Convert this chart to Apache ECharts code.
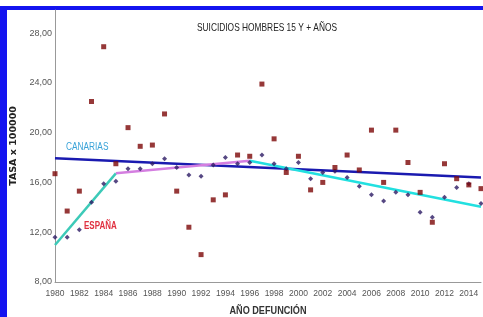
<!DOCTYPE html>
<html>
<head>
<meta charset="utf-8">
<script src="https://cdn.jsdelivr.net/npm/echarts@6/dist/echarts.min.js"></script>
<style>
html, body { margin: 0; padding: 0; background: #fff; }
#chart { width: 483px; height: 317px; }
</style>
</head>
<body>
<div id="chart"></div>
<script>
var years = [1980, 1981, 1982, 1983, 1984, 1985, 1986, 1987, 1988, 1989,
             1990, 1991, 1992, 1993, 1994, 1995, 1996, 1997, 1998, 1999,
             2000, 2001, 2002, 2003, 2004, 2005, 2006, 2007, 2008, 2009,
             2010, 2011, 2012, 2013, 2014, 2015];
// tasa canarias (cuadrados)
var canarias = [16.7, 13.7, 15.3, 22.5, 26.9, 17.5, 20.4, 18.9, 19.0, 21.5,
                15.3, 12.4, 10.2, 14.6, 15.0, 18.2, 18.1, 23.9, 19.5, 16.8,
                18.1, 15.4, 16.0, 17.2, 18.2, 17.0, 20.2, 16.0, 20.2, 17.6,
                15.2, 12.8, 17.5, 16.3, 15.8, 15.5];
// tasa españa (rombos)
var espana = [11.6, 11.6, 12.2, 14.4, 15.9, 16.1, 17.1, 17.1, 17.5, 17.9,
              17.2, 16.6, 16.5, 17.4, 18.0, 17.5, 17.6, 18.2, 17.5, 17.1,
              17.6, 16.3, 16.8, 16.9, 16.4, 15.7, 15.0, 14.5, 15.2, 15.0,
              13.6, 13.2, 14.8, 15.6, 15.9, 14.3];
// tendencias
var canariasTrend = [[1980, 17.95], [2015, 16.4]];
var espanaTrend1 = [[1980, 10.97], [1985, 16.73]];
var espanaTrend2 = [[1985, 16.73], [1996, 17.74]];
var espanaTrend3 = [[1996, 17.74], [2015, 14.05]];

var myChart = echarts.init(document.getElementById('chart'));

function pairs(vals) {
    return years.map(function (y, i) { return [y, vals[i]]; });
}

var font = '"Liberation Sans", Arial, sans-serif';

// texto estrecho (no hay Arial Narrow instalada)
function narrowText(txt, x, y, size, weight, color, align, sx) {
    return {
        type: 'text', x: x, y: y, scaleX: sx, scaleY: 1, silent: true,
        style: {
            text: txt, x: 0, y: 0, fill: color, align: align, verticalAlign: 'middle',
            font: weight + ' ' + size + 'px ' + font
        }
    };
}

var option = {
    animation: false,
    graphic: [
        { type: 'rect', shape: { x: 0, y: 6, width: 7, height: 311 }, style: { fill: '#1414f0' } },
        { type: 'rect', shape: { x: 0, y: 6, width: 483, height: 4 }, style: { fill: '#1414f0' } },
        narrowText('SUICIDIOS HOMBRES 15 Y + AÑOS', 267, 28, 11, 'normal', '#222', 'center', 0.76),
        narrowText('AÑO DEFUNCIÓN', 268, 311, 11, 'bold', '#333', 'center', 0.83),
        narrowText('CANARIAS', 66, 147, 10, 'normal', '#3aa3d8', 'left', 0.83),
        narrowText('ESPAÑA', 84, 226, 10, 'bold', '#e03040', 'left', 0.8)
    ],
    grid: { left: 55, right: 2, top: 10, bottom: 35 },
    xAxis: {
        type: 'value',
        min: 1980,
        max: 2015,
        interval: 2,
        splitLine: { show: false },
        axisTick: { show: false },
        axisLine: { lineStyle: { color: '#999', width: 1 } },
        axisLabel: {
            showMaxLabel: false, margin: 7, fontSize: 8.5, color: '#555', fontFamily: font,
            formatter: function (v) { return String(v); }
        }
    },
    yAxis: {
        type: 'value',
        min: 8,
        max: 29.85,
        interval: 4,
        name: 'TASA x 100000',
        nameLocation: 'middle',
        nameRotate: 90,
        nameGap: 32,
        nameTextStyle: { fontSize: 9.5, fontWeight: 'bold', color: '#222', fontFamily: '"DejaVu Sans", sans-serif' },
        splitLine: { show: false },
        axisTick: { show: false },
        axisLine: { show: true, lineStyle: { color: '#999', width: 1 } },
        axisLabel: {
            showMaxLabel: false, margin: 3, fontSize: 9, color: '#555', fontFamily: font,
            formatter: function (v) { return v.toFixed(2).replace('.', ','); }
        }
    },
    series: [
        {
            type: 'line',
            data: canariasTrend,
            symbol: 'none',
            lineStyle: { color: '#1a1ab0', width: 2.5 }
        },
        {
            type: 'line',
            data: espanaTrend1,
            symbol: 'none',
            lineStyle: { color: '#3ccab8', width: 2.5 }
        },
        {
            type: 'line',
            data: espanaTrend2,
            symbol: 'none',
            lineStyle: { color: '#d47ee0', width: 2.5 }
        },
        {
            type: 'line',
            data: espanaTrend3,
            symbol: 'none',
            lineStyle: { color: '#22e0e0', width: 2.5 }
        },
        {
            type: 'scatter',
            data: pairs(espana),
            symbol: 'diamond',
            symbolSize: 5,
            itemStyle: { color: '#2c1a64' },
            z: 5
        },
        {
            type: 'scatter',
            data: pairs(canarias),
            symbol: 'rect',
            symbolSize: 5,
            itemStyle: { color: '#7c0606' },
            z: 6
        }
    ]
};
myChart.setOption(option);
</script>
</body>
</html>
